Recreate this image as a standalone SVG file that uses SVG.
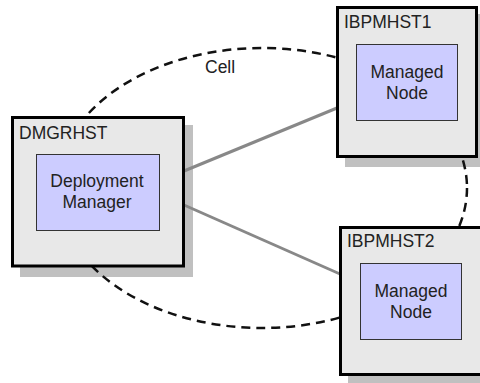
<svg xmlns="http://www.w3.org/2000/svg" width="480" height="383" viewBox="0 0 480 383">
<style>
.shadow{fill:#c0c0c0}
.host{fill:#e8e8e8;stroke:#000;stroke-width:3}
.proc{fill:#ccccff;stroke:#333;stroke-width:1}
text{font-family:"Liberation Sans",Arial,sans-serif;font-size:17.5px;fill:#222}
.c{text-anchor:middle}
.link{stroke:#888;stroke-width:3;fill:none}
.cell{fill:none;stroke:#111;stroke-width:2.5;stroke-dasharray:9 6}
</style>
<g id="shadows">
<rect class="shadow" x="20" y="125" width="173" height="152"/>
<rect class="shadow" x="345" y="14" width="143" height="153"/>
<rect class="shadow" x="348" y="235" width="142" height="148"/>
</g>
<g id="cell">
<ellipse class="cell" cx="262" cy="188" rx="205" ry="140"/>
<text x="205" y="73">Cell</text>
</g>
<g id="connectors">
<line class="link" x1="184" y1="171" x2="337" y2="108"/>
<line class="link" x1="184" y1="205" x2="340" y2="274"/>
</g>
<g id="dmgrhst">
<rect class="host" x="12.5" y="117.5" width="171" height="148.5"/>
<text x="19" y="139">DMGRHST</text>
<rect class="proc" x="36.5" y="154.5" width="123" height="76"/>
<text class="c" x="97" y="187">Deployment</text>
<text class="c" x="97" y="208">Manager</text>
</g>
<g id="ibpmhst1">
<rect class="host" x="337.5" y="7.5" width="139" height="149"/>
<text x="344" y="28">IBPMHST1</text>
<rect class="proc" x="356.5" y="44.5" width="101" height="76"/>
<text class="c" x="407" y="78">Managed</text>
<text class="c" x="407" y="99">Node</text>
</g>
<g id="ibpmhst2">
<rect class="host" x="340.5" y="227.5" width="141" height="147"/>
<text x="347" y="247">IBPMHST2</text>
<rect class="proc" x="360.5" y="263.5" width="101" height="76"/>
<text class="c" x="411" y="297">Managed</text>
<text class="c" x="411" y="318">Node</text>
</g>
</svg>
